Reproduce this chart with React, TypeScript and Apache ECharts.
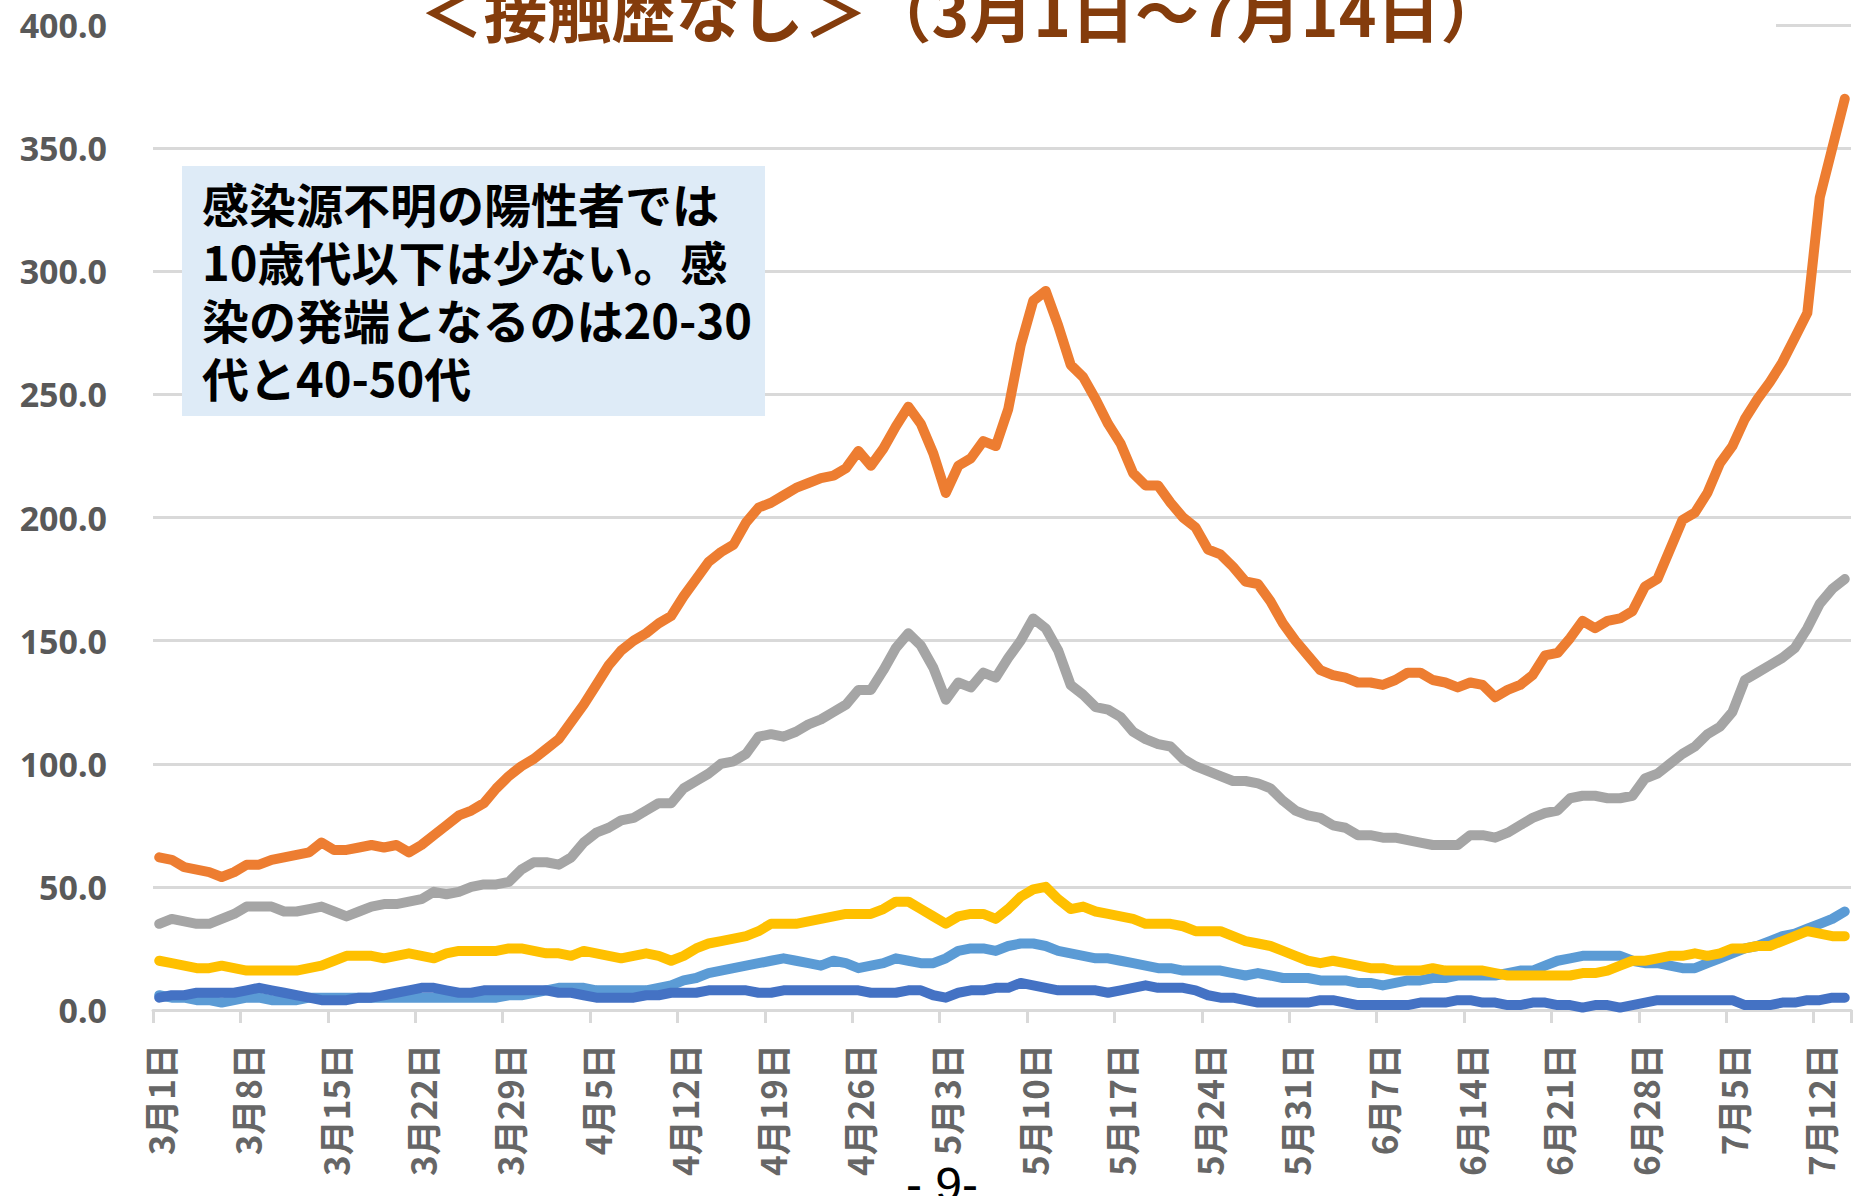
import React, { useEffect, useRef } from "react";
import * as echarts from "echarts";

// Categories: 3月1日 .. 7月14日
const monthDays: [number, number][] = [[3, 31], [4, 30], [5, 31], [6, 30], [7, 14]];
const categories: string[] = [];
monthDays.forEach(([m, n]) => {
  for (let d = 1; d <= n; d++) categories.push(`${m}月${d}日`);
});

const yTicks = [0, 50, 100, 150, 200, 250, 300, 350, 400];

const title = "＜接触歴なし＞（3月1日～7月14日）";
const noteLines = [
  "感染源不明の陽性者では",
  "10歳代以下は少ない。感",
  "染の発端となるのは20-30",
  "代と40-50代",
];
const pageNo = "- 9-";

// 20-30代 (orange)
const s2030 = [
  62, 61, 58, 57, 56, 54, 56, 59, 59, 61, 62, 63, 64, 68, 65, 65, 66, 67, 66, 67,
  64, 67, 71, 75, 79, 81, 84, 90, 95, 99, 102, 106, 110, 117, 124, 132, 140, 146, 150, 153,
  157, 160, 168, 175, 182, 186, 189, 198, 204, 206, 209, 212, 214, 216, 217, 220, 227, 221, 228, 237,
  245, 238, 226, 210, 221, 224, 231, 229, 244, 270, 288, 292, 278, 262, 257, 248, 238, 230, 218, 213,
  213, 206, 200, 196, 187, 185, 180, 174, 173, 166, 157, 150, 144, 138, 136, 135, 133, 133, 132, 134,
  137, 137, 134, 133, 131, 133, 132, 127, 130, 132, 136, 144, 145, 151, 158, 155, 158, 159, 162, 172,
  175, 187, 199, 202, 210, 222, 229, 240, 248, 255, 263, 273, 283, 330, 350, 370,
];

// 40-50代 (gray)
const s4050 = [
  35, 37, 36, 35, 35, 37, 39, 42, 42, 42, 40, 40, 41, 42, 40, 38, 40, 42, 43, 43,
  44, 45, 48, 47, 48, 50, 51, 51, 52, 57, 60, 60, 59, 62, 68, 72, 74, 77, 78, 81,
  84, 84, 90, 93, 96, 100, 101, 104, 111, 112, 111, 113, 116, 118, 121, 124, 130, 130, 138, 147,
  153, 148, 139, 126, 133, 131, 137, 135, 143, 150, 159, 155, 146, 132, 128, 123, 122, 119, 113, 110,
  108, 107, 102, 99, 97, 95, 93, 93, 92, 90, 85, 81, 79, 78, 75, 74, 71, 71, 70, 70,
  69, 68, 67, 67, 67, 71, 71, 70, 72, 75, 78, 80, 81, 86, 87, 87, 86, 86, 87, 94,
  96, 100, 104, 107, 112, 115, 121, 134, 137, 140, 143, 147, 155, 165, 171, 175,
];

// 60代以上 (yellow)
const s60 = [
  20, 19, 18, 17, 17, 18, 17, 16, 16, 16, 16, 16, 17, 18, 20, 22, 22, 22, 21, 22,
  23, 22, 21, 23, 24, 24, 24, 24, 25, 25, 24, 23, 23, 22, 24, 23, 22, 21, 22, 23,
  22, 20, 22, 25, 27, 28, 29, 30, 32, 35, 35, 35, 36, 37, 38, 39, 39, 39, 41, 44,
  44, 41, 38, 35, 38, 39, 39, 37, 41, 46, 49, 50, 45, 41, 42, 40, 39, 38, 37, 35,
  35, 35, 34, 32, 32, 32, 30, 28, 27, 26, 24, 22, 20, 19, 20, 19, 18, 17, 17, 16,
  16, 16, 17, 16, 16, 16, 16, 15, 14, 14, 14, 14, 14, 14, 15, 15, 16, 18, 20, 20,
  21, 22, 22, 23, 22, 23, 25, 25, 26, 26, 28, 30, 32, 31, 30, 30,
];

// 10代 (light blue)
const s10 = [
  6, 5, 5, 4, 4, 3, 4, 5, 5, 4, 4, 4, 5, 5, 5, 5, 5, 5, 5, 5,
  5, 5, 5, 5, 5, 5, 5, 5, 6, 6, 7, 8, 9, 9, 9, 8, 8, 8, 8, 8,
  9, 10, 12, 13, 15, 16, 17, 18, 19, 20, 21, 20, 19, 18, 20, 19, 17, 18, 19, 21,
  20, 19, 19, 21, 24, 25, 25, 24, 26, 27, 27, 26, 24, 23, 22, 21, 21, 20, 19, 18,
  17, 17, 16, 16, 16, 16, 15, 14, 15, 14, 13, 13, 13, 12, 12, 12, 11, 11, 10, 11,
  12, 12, 13, 13, 14, 14, 14, 14, 15, 16, 16, 18, 20, 21, 22, 22, 22, 22, 20, 19,
  19, 18, 17, 17, 19, 21, 23, 25, 26, 28, 30, 31, 33, 35, 37, 40,
];

// 10歳未満 (dark blue)
const s0 = [
  5, 6, 6, 7, 7, 7, 7, 8, 9, 8, 7, 6, 5, 4, 4, 4, 5, 5, 6, 7,
  8, 9, 9, 8, 7, 7, 8, 8, 8, 8, 8, 8, 7, 7, 6, 5, 5, 5, 5, 6,
  6, 7, 7, 7, 8, 8, 8, 8, 7, 7, 8, 8, 8, 8, 8, 8, 8, 7, 7, 7,
  8, 8, 6, 5, 7, 8, 8, 9, 9, 11, 10, 9, 8, 8, 8, 8, 7, 8, 9, 10,
  9, 9, 9, 8, 6, 5, 5, 4, 3, 3, 3, 3, 3, 4, 4, 3, 2, 2, 2, 2,
  2, 3, 3, 3, 4, 4, 3, 3, 2, 2, 3, 3, 2, 2, 1, 2, 2, 1, 2, 3,
  4, 4, 4, 4, 4, 4, 4, 2, 2, 2, 3, 3, 4, 4, 5, 5,
];

const seriesDefs = [
  { name: "10代", data: s10, color: "#5B9BD5" },
  { name: "10歳未満", data: s0, color: "#4472C4" },
  { name: "60代以上", data: s60, color: "#FFC000" },
  { name: "40-50代", data: s4050, color: "#A5A5A5" },
  { name: "20-30代", data: s2030, color: "#ED7D31" },
];

export default function App() {
  const ref = useRef<HTMLDivElement>(null);
  useEffect(() => {
    if (!ref.current) return;
    const chart = echarts.init(ref.current, null, { renderer: "svg" });
    const gridColor = "#D9D9D9";
    chart.setOption({
      animation: false,
      backgroundColor: "#FFFFFF",
      grid: { left: 153, right: 13, top: 25, bottom: 186, containLabel: false },
      xAxis: {
        type: "category",
        data: categories,
        boundaryGap: true,
        axisLine: { lineStyle: { color: gridColor, width: 3 } },
        axisTick: { show: true, interval: 6, length: 13, lineStyle: { color: gridColor, width: 3 } },
        axisLabel: {
          interval: 6,
          rotate: 90,
          margin: 34,
          fontSize: 35,
          fontWeight: "bold",
          color: "#666666",
          fontFamily: "Noto Sans CJK JP",
        },
      },
      yAxis: {
        type: "value",
        min: yTicks[0],
        max: yTicks[yTicks.length - 1],
        interval: 50,
        axisLine: { show: false },
        axisTick: { show: false },
        splitLine: { lineStyle: { color: gridColor, width: 3 } },
        axisLabel: {
          margin: 46,
          fontSize: 34,
          fontWeight: "bold",
          color: "#595959",
          fontFamily: "Noto Sans",
          formatter: (v: number) => v.toFixed(1),
        },
      },
      series: seriesDefs.map((s) => ({
        type: "line",
        name: s.name,
        data: s.data,
        showSymbol: false,
        symbol: "none",
        lineStyle: { color: s.color, width: 10, cap: "round", join: "round" },
        itemStyle: { color: s.color },
      })),
      graphic: [
        {
          type: "rect",
          z: 100,
          shape: { x: 140, y: 0, width: 1636, height: 40 },
          style: { fill: "#FFFFFF" },
        },
        {
          type: "text",
          z: 101,
          x: 962,
          y: 9,
          style: {
            text: title,
            fill: "#843C0C",
            fontSize: 64,
            fontWeight: "bold",
            fontFamily: "Noto Sans CJK JP",
            align: "center",
            verticalAlign: "middle",
          },
        },
        {
          type: "rect",
          z: 100,
          shape: { x: 182, y: 166, width: 583, height: 250 },
          style: { fill: "#DEEBF7" },
        },
        {
          type: "text",
          z: 101,
          x: 202,
          y: 173,
          style: {
            text: noteLines.join("\n"),
            fill: "#000000",
            fontSize: 47,
            lineHeight: 58,
            fontWeight: "bold",
            fontFamily: "Noto Sans CJK JP",
            align: "left",
            verticalAlign: "top",
          },
        },
        {
          type: "text",
          z: 101,
          x: 942,
          y: 1184,
          style: {
            text: pageNo,
            fill: "#000000",
            fontSize: 48,
            fontFamily: "Liberation Sans Narrow, Liberation Sans",
            align: "center",
            verticalAlign: "middle",
          },
        },
      ],
    });
    return () => chart.dispose();
  }, []);
  return <div ref={ref} style={{ width: 1864, height: 1196, position: "absolute", left: 0, top: 0 }} />;
}
